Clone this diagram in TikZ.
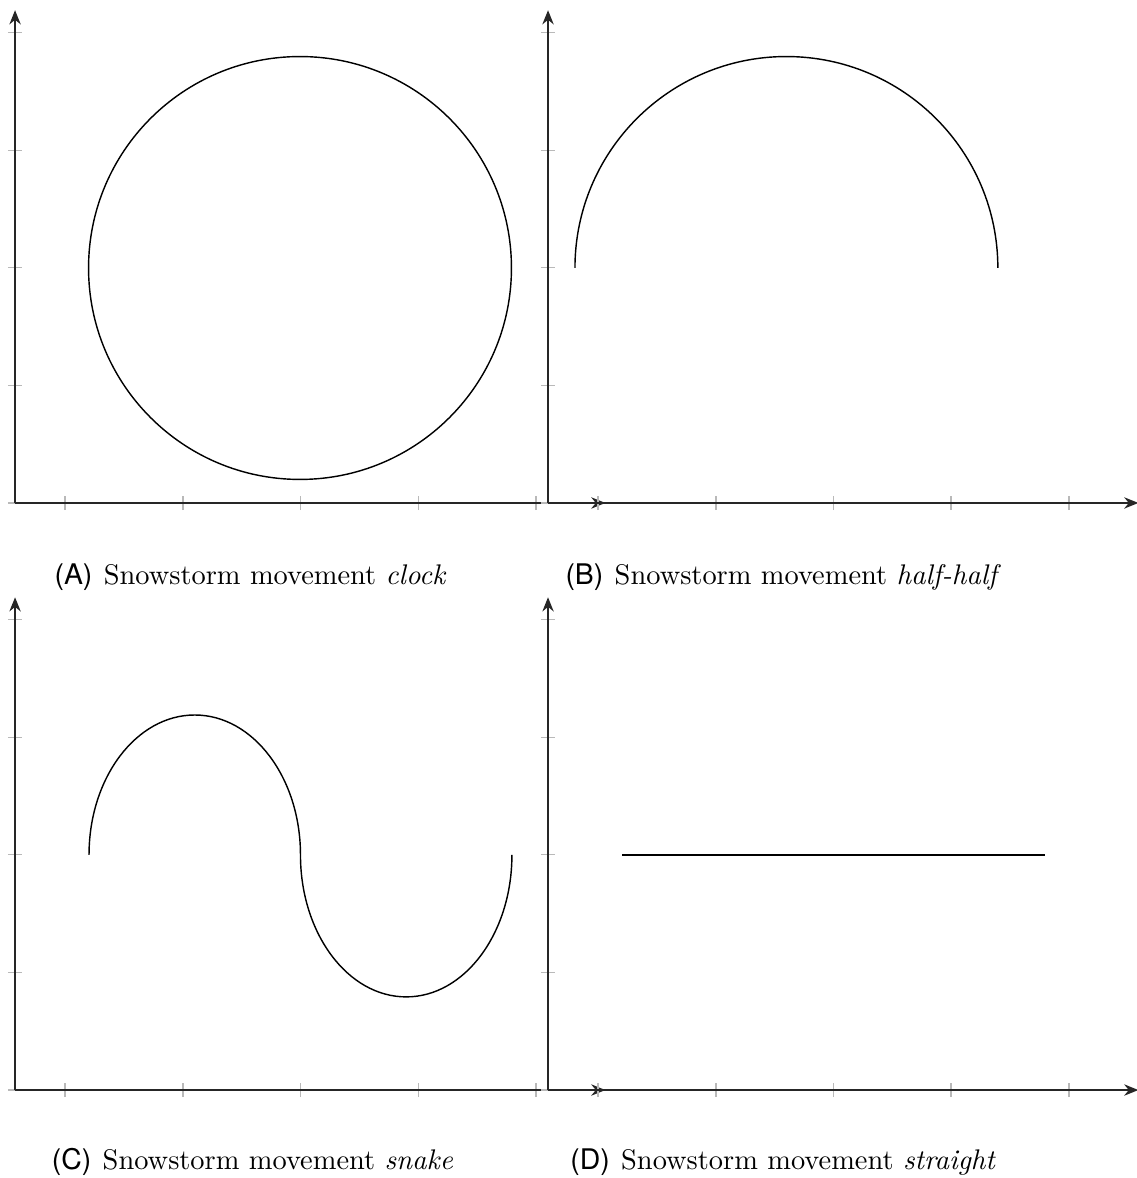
\documentclass[tikz,border=0pt]{standalone}
\usepackage{fontspec}
\newfontfamily\labelfont{TeX Gyre Heros}
\usetikzlibrary{arrows.meta}
\begin{document}
\begin{tikzpicture}[x=41.4pt,y=41.4pt, every node/.style={font=\normalsize},
  axisline/.style={black!85,line width=.6pt,-{Stealth[length=5pt,width=4pt]}},
  tickmark/.style={gray!55,line width=.4pt},
  curve/.style={black,line width=.5pt}]
 \useasboundingbox (0,0) rectangle (9.668,10.017);
 % axes of the four panels
 \foreach \ox/\oy in {0.128/5.740, 4.660/5.740, 0.128/0.748, 4.660/0.748} {
  \begin{scope}[shift={(\ox,\oy)}]
   \foreach \t in {0.425,1.428,2.425,3.427,4.43}
    \draw[tickmark] (\t,-.06) -- (\t,.06);
   \foreach \t in {0,1,2,3,4}
    \draw[tickmark] (-.06,\t) -- (.06,\t);
   \draw[axisline] (0,0) -- (5.02,0);
   \draw[axisline] (0,0) -- (0,4.19);
  \end{scope}
 }
 % the four movements
 \draw[curve] (2.551,7.738) circle (1.798);
 \draw[curve] (4.889,7.738) arc[start angle=180,end angle=0,radius=1.798];
 \draw[curve] (0.757,2.747)
  arc[start angle=180,end angle=0,x radius=.899,y radius=1.19]
  arc[start angle=180,end angle=360,x radius=.899,y radius=1.207];
 \draw[curve] (5.289,2.747) -- (8.886,2.747);
 % captions
 \node[anchor=base] (capA) at (2.13,5.05)
  {{\labelfont (A)}\hspace{4pt}Snowstorm movement \textit{clock}};
 \node[anchor=base] (capB) at (6.66,5.05)
  {{\labelfont (B)}\hspace{4pt}Snowstorm movement \textit{half-half}};
 \node[anchor=base] (capC) at (2.147,0.075)
  {{\labelfont (C)}\hspace{4pt}Snowstorm movement \textit{snake}};
 \node[anchor=base] (capD) at (6.66,0.075)
  {{\labelfont (D)}\hspace{4pt}Snowstorm movement \textit{straight}};
\end{tikzpicture}
\end{document}
